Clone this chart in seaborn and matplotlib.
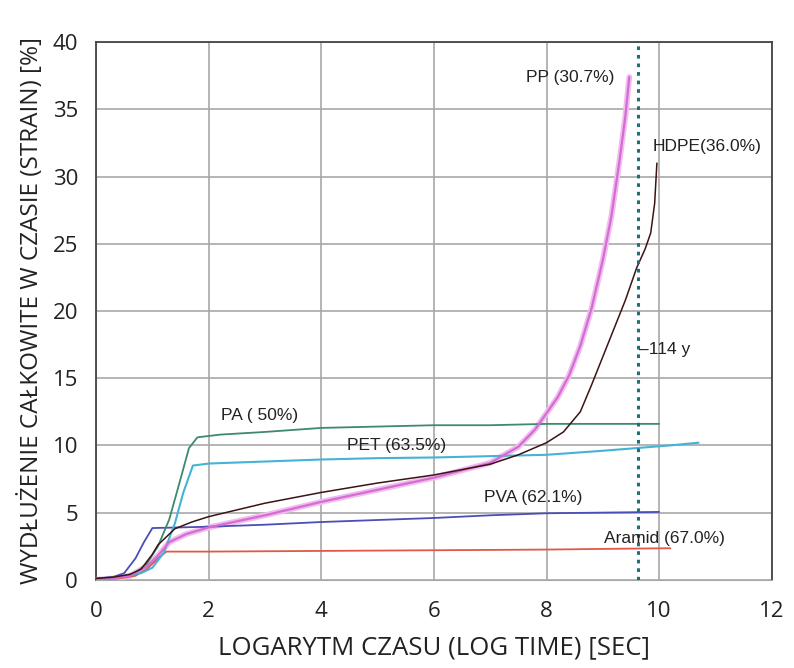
import matplotlib
matplotlib.use("Agg")
import matplotlib.pyplot as plt
import seaborn as sns
import pandas as pd

# curves (x = log time, y = strain %)
pp_x = [0, 0.3, 0.6, 0.9, 1.1, 1.3, 1.6, 2.0, 3.0, 4.0, 5.0, 6.0, 7.0, 7.5, 7.8, 8.0, 8.2, 8.4, 8.6, 8.8, 9.0, 9.15, 9.3, 9.4, 9.47]
pp_y = [0.0, 0.1, 0.3, 1.0, 1.8, 2.8, 3.4, 3.9, 4.8, 5.8, 6.7, 7.6, 8.7, 9.9, 11.2, 12.4, 13.6, 15.2, 17.4, 20.2, 23.8, 27.0, 31.3, 34.5, 37.4]

hdpe_x = [0, 0.3, 0.6, 0.8, 1.0, 1.1, 1.4, 1.7, 2.0, 3.0, 4.0, 5.0, 6.0, 7.0, 7.5, 8.0, 8.3, 8.6, 8.8, 9.0, 9.2, 9.4, 9.6, 9.75, 9.85, 9.92, 9.96]
hdpe_y = [0.1, 0.2, 0.4, 0.8, 1.9, 2.6, 3.8, 4.3, 4.7, 5.7, 6.5, 7.2, 7.8, 8.6, 9.3, 10.2, 11.0, 12.5, 14.5, 16.6, 18.7, 20.8, 23.2, 24.6, 25.8, 28.0, 31.0]

pa_x = [0, 0.4, 0.7, 0.9, 1.1, 1.3, 1.5, 1.65, 1.8, 2.2, 3.0, 4.0, 5.0, 6.0, 7.0, 8.0, 9.0, 10.0]
pa_y = [0.1, 0.2, 0.5, 1.2, 2.5, 4.5, 7.5, 9.8, 10.6, 10.8, 11.0, 11.3, 11.4, 11.5, 11.5, 11.6, 11.6, 11.6]

pet_x = [0, 0.4, 0.8, 1.0, 1.2, 1.4, 1.55, 1.72, 2.0, 3.0, 4.0, 5.0, 6.0, 7.0, 8.0, 9.0, 9.6, 10.2, 10.7]
pet_y = [0.1, 0.2, 0.5, 0.9, 2.0, 4.2, 6.5, 8.5, 8.65, 8.8, 8.95, 9.05, 9.1, 9.2, 9.3, 9.6, 9.8, 10.0, 10.2]

pva_x = [0, 0.3, 0.5, 0.7, 0.85, 1.0, 1.5, 2.0, 3.0, 4.0, 5.0, 6.0, 7.0, 8.0, 9.0, 10.0]
pva_y = [0.1, 0.2, 0.5, 1.6, 2.8, 3.85, 3.9, 3.95, 4.1, 4.3, 4.45, 4.6, 4.8, 4.95, 5.0, 5.05]

aramid_x = [0, 0.4, 0.7, 0.9, 1.1, 1.25, 2.0, 4.0, 6.0, 8.0, 9.0, 10.2]
aramid_y = [0.0, 0.1, 0.3, 0.8, 1.6, 2.1, 2.1, 2.15, 2.2, 2.25, 2.3, 2.35]

limit_x = 9.62  # 114 years

series = {
    "Aramid": (aramid_x, aramid_y, "#e0584a", 1.3),
    "PVA": (pva_x, pva_y, "#4a4fb5", 1.3),
    "PET": (pet_x, pet_y, "#45b3d6", 1.5),
    "PA": (pa_x, pa_y, "#3d8a6c", 1.3),
    "PP": (pp_x, pp_y, "#d46cd4", 1.6),
    "HDPE": (hdpe_x, hdpe_y, "#3b1414", 1.1),
}

labels = [
    ("PP (30.7%)", 8.42, 37.4, "center"),
    ("HDPE(36.0%)", 10.85, 32.2, "center"),
    ("\u2013114 y", 9.64, 17.1, "left"),
    ("PA ( 50%)", 2.9, 12.2, "center"),
    ("PET (63.5%)", 5.33, 10.0, "center"),
    ("PVA (62.1%)", 7.76, 6.1, "center"),
    ("Aramid (67.0%)", 10.1, 3.1, "center"),
]

sns.set_style("white")
plt.rcParams["font.family"] = ["Open Sans", "DejaVu Sans"]

fig = plt.figure(figsize=(7.94, 6.68), dpi=100)
ax = fig.add_axes([0.121, 0.132, 0.851, 0.805])

for name, (xs, ys, col, lw) in series.items():
    df = pd.DataFrame({"x": xs, "y": ys})
    if name == "PP":
        sns.lineplot(data=df, x="x", y="y", sort=False, estimator=None, ax=ax,
                     color="#f0bdee", linewidth=4.2, zorder=3)
    sns.lineplot(data=df, x="x", y="y", sort=False, estimator=None, ax=ax,
                 color=col, linewidth=lw, zorder=4)

ax.axvline(limit_x, color="#1d6f7c", linestyle=(0, (1.2, 1.6)), linewidth=2.2, zorder=5)

for txt, x, y, ha in labels:
    ax.text(x, y, txt, ha=ha, va="center", fontsize=12.5,
            family="Liberation Sans", color="#222222", zorder=6)

ax.set_xlim(0, 12)
ax.set_ylim(0, 40)
ax.set_xticks(range(0, 13, 2))
ax.set_yticks(range(0, 41, 5))
ax.grid(True, color="#a8a8a8", linewidth=1.2)
ax.set_axisbelow(True)
ax.tick_params(axis="both", labelsize=16, colors="#a8a8a8", length=7, width=1.2,
               labelcolor="#222222")
ax.tick_params(axis="x", pad=8)
ax.tick_params(axis="y", pad=6)
for side in ["top", "right", "left"]:
    ax.spines[side].set_color("#444444")
    ax.spines[side].set_linewidth(1.3)
ax.spines["bottom"].set_color("#a8a8a8")
ax.set_xlabel("LOGARYTM CZASU (LOG TIME) [SEC]", fontsize=18.5, color="#222222", labelpad=10)
ax.set_ylabel("WYDŁUŻENIE CAŁKOWITE W CZASIE (STRAIN) [%]", fontsize=17.5, color="#222222", labelpad=6)

fig.savefig("out.png", dpi=100)
